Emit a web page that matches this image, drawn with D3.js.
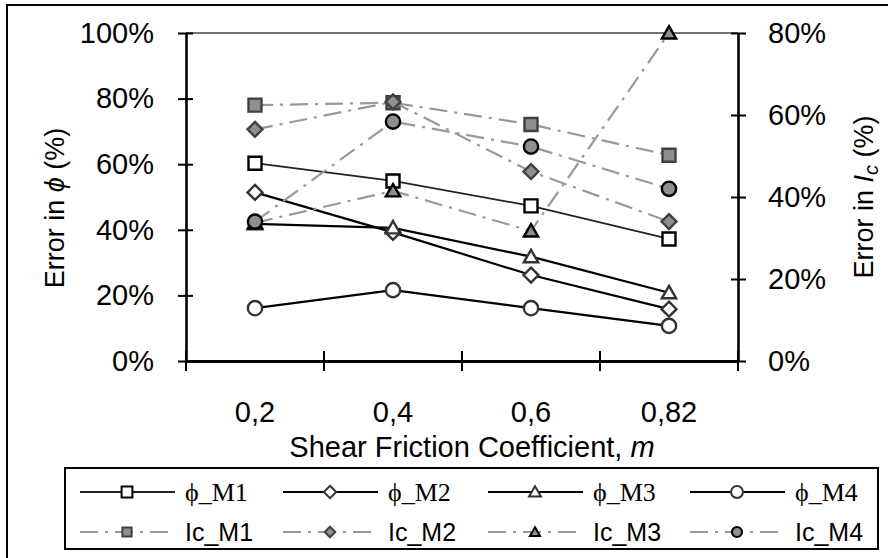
<!DOCTYPE html>
<html>
<head>
<meta charset="utf-8">
<script src="https://cdn.jsdelivr.net/npm/d3@7"></script>
<style>
body { margin: 0; background: #fff; }
svg { display: block; font-family: "Liberation Sans", Arial, sans-serif; }
</style>
</head>
<body>
<svg id="chart" width="888" height="558"></svg>
<script>
// values, in percent
const categories = ['0,2', '0,4', '0,6', '0,82'];
const phiM1 = [60.3, 54.9, 47.3, 37.2];
const phiM2 = [51.4, 39.2, 26.2, 15.8];
const phiM3 = [41.8, 40.6, 31.8, 20.8];
const phiM4 = [16.1, 21.6, 16.1, 10.7];
const icM1 = [62.4, 63.0, 57.7, 50.2];
const icM2 = [56.5, 63.2, 46.2, 34.0];
const icM3 = [33.7, 41.5, 31.7, 80.0];
const icM4 = [34.0, 58.4, 52.3, 42.0];
const leftTicks = [0, 20, 40, 60, 80, 100];
const rightTicks = [0, 20, 40, 60, 80];

const phiStyle = { line: '#000', width: 2.2, dash: null, fill: '#fff' };
const icStyle = { line: '#999', width: 2.2, dash: '18,7,3,7', fill: '#8f8f8f' };

const series = [
	{ name: 'ϕ_M1', values: phiM1, axis: 'left', shape: 'square', stroke: '#000', ...phiStyle, line: '#222', width: 1.8 },
	{ name: 'ϕ_M2', values: phiM2, axis: 'left', shape: 'diamond', stroke: '#333', ...phiStyle },
	{ name: 'ϕ_M3', values: phiM3, axis: 'left', shape: 'triangle', stroke: '#333', ...phiStyle },
	{ name: 'ϕ_M4', values: phiM4, axis: 'left', shape: 'circle', stroke: '#333', ...phiStyle },
	{ name: 'Ic_M1', values: icM1, axis: 'right', shape: 'square', stroke: '#404040', ...icStyle },
	{ name: 'Ic_M2', values: icM2, axis: 'right', shape: 'diamond', stroke: '#404040', ...icStyle },
	{ name: 'Ic_M3', values: icM3, axis: 'right', shape: 'triangle', stroke: '#000', ...icStyle },
	{ name: 'Ic_M4', values: icM4, axis: 'right', shape: 'circle', stroke: '#000', ...icStyle },
];

const svg = d3.select('#chart');
const plotLeft = 186, plotRight = 738, plotTop = 33, plotBottom = 361;

const x = d3.scaleBand().domain(categories).range([plotLeft, plotRight]);
const yL = d3.scaleLinear().domain([0, 100]).range([plotBottom, plotTop]);
const yR = d3.scaleLinear().domain([0, 80]).range([plotBottom, plotTop]);
const cx = (c) => x(c) + x.bandwidth() / 2;

function shapePath(shape, s) {
	if (shape === 'square') return `M${-s},${-s}h${2 * s}v${2 * s}h${-2 * s}Z`;
	if (shape === 'diamond') return `M0,${-s * 1.15}L${s * 1.15},0L0,${s * 1.15}L${-s * 1.15},0Z`;
	if (shape === 'triangle') return `M0,${-s * 1.05}L${s * 1.1},${s * 0.85}L${-s * 1.1},${s * 0.85}Z`;
	const p = d3.path();
	p.arc(0, 0, s * 1.1, 0, Math.PI * 2);
	p.closePath();
	return p.toString();
}

// outer frame
svg.append('rect')
	.attr('x', 7).attr('y', 5).attr('width', 900).attr('height', 600)
	.attr('fill', 'none').attr('stroke', '#000').attr('stroke-width', 2);

// top line of plot area
svg.append('line')
	.attr('x1', plotLeft).attr('x2', plotRight).attr('y1', plotTop).attr('y2', plotTop)
	.attr('stroke', '#444').attr('stroke-width', 1.5);

// left axis
const gL = svg.append('g')
	.attr('transform', `translate(${plotLeft},0)`)
	.call(d3.axisLeft(yL).tickValues(leftTicks).tickFormat((d) => d + '%')
		.tickSize(8).tickSizeOuter(0).tickPadding(24));
gL.selectAll('.tick line').attr('x1', 7).attr('stroke-width', 2);
gL.select('.domain').attr('stroke-width', 2.6);
gL.selectAll('text').attr('font-size', 29).attr('fill', '#000')
	.attr('font-family', '"Liberation Sans", Arial, sans-serif');

// right axis
const gR = svg.append('g')
	.attr('transform', `translate(${plotRight},0)`)
	.call(d3.axisRight(yR).tickValues(rightTicks).tickFormat((d) => d + '%')
		.tickSize(8).tickSizeOuter(0).tickPadding(22));
gR.selectAll('.tick line').attr('x1', -7).attr('stroke-width', 2);
gR.select('.domain').attr('stroke-width', 2.6);
gR.selectAll('text').attr('font-size', 29).attr('fill', '#000')
	.attr('font-family', '"Liberation Sans", Arial, sans-serif');

// bottom axis: labels at band centres, ticks at band edges
const gX = svg.append('g')
	.attr('transform', `translate(0,${plotBottom})`)
	.call(d3.axisBottom(x).tickSize(0).tickSizeOuter(0).tickPadding(40));
gX.select('.domain').attr('stroke-width', 2.8);
gX.selectAll('text').attr('font-size', 29).attr('fill', '#000')
	.attr('font-family', '"Liberation Sans", Arial, sans-serif');
gX.selectAll('.edge')
	.data(categories.map((c) => x(c)).concat([x.range()[1]]))
	.join('line')
	.attr('class', 'edge')
	.attr('x1', (d) => d).attr('x2', (d) => d)
	.attr('y1', -10).attr('y2', 10)
	.attr('stroke', '#000').attr('stroke-width', 2);

// axis titles
svg.append('text')
	.attr('x', 472).attr('y', 457)
	.attr('text-anchor', 'middle').attr('font-size', 29)
	.call((t) => {
		t.append('tspan').text('Shear Friction Coefficient, ');
		t.append('tspan').attr('font-style', 'italic').text('m');
	});

svg.append('text')
	.attr('transform', 'translate(64,208) rotate(-90)')
	.attr('text-anchor', 'middle').attr('font-size', 27)
	.call((t) => {
		t.append('tspan').text('Error in ');
		t.append('tspan').attr('font-style', 'italic').text('ϕ');
		t.append('tspan').text(' (%)');
	});

svg.append('text')
	.attr('transform', 'translate(873,197) rotate(-90)')
	.attr('text-anchor', 'middle').attr('font-size', 27)
	.call((t) => {
		t.append('tspan').text('Error in ');
		t.append('tspan').attr('font-style', 'italic').text('I');
		t.append('tspan').attr('font-style', 'italic').attr('font-size', 20).attr('dy', 5).text('c');
		t.append('tspan').attr('dy', -5).text(' (%)');
	});

// series
series.forEach((s) => {
	const y = s.axis === 'left' ? yL : yR;
	const line = d3.line().x((d, i) => cx(categories[i])).y((d) => y(d));
	svg.append('path')
		.datum(s.values)
		.attr('d', line)
		.attr('fill', 'none')
		.attr('stroke', s.line)
		.attr('stroke-width', s.width)
		.attr('stroke-dasharray', s.dash);
	svg.append('g')
		.selectAll('path')
		.data(s.values)
		.join('path')
		.attr('transform', (d, i) => `translate(${cx(categories[i])},${y(d)})`)
		.attr('d', shapePath(s.shape, 6.5))
		.attr('fill', s.fill)
		.attr('stroke', s.stroke)
		.attr('stroke-width', 2.4);
});

// legend
svg.append('rect')
	.attr('x', 65).attr('y', 468).attr('width', 813).attr('height', 81)
	.attr('fill', '#fff').attr('stroke', '#000').attr('stroke-width', 2);

const legendCols = [80, 283, 488, 690];
const legendRows = [492, 532];
series.forEach((s, i) => {
	const lx = legendCols[i % 4];
	const ly = legendRows[Math.floor(i / 4)];
	const g = svg.append('g').attr('transform', `translate(${lx},${ly})`);
	g.append('line')
		.attr('x1', 0).attr('x2', 95)
		.attr('stroke', s.line).attr('stroke-width', s.width)
		.attr('stroke-dasharray', s.dash);
	g.append('path')
		.attr('transform', 'translate(47,0)')
		.attr('d', shapePath(s.shape, s.axis === 'left' ? 5.4 : 4.6))
		.attr('fill', s.fill).attr('stroke', s.stroke).attr('stroke-width', 2);
	const phi = s.axis === 'left';
	g.append('text')
		.attr('x', 105).attr('y', 9)
		.attr('font-size', phi ? 26 : 25)
		.attr('font-family', phi ? '"Liberation Serif", "Times New Roman", serif' : '"Liberation Sans", Arial, sans-serif')
		.text(s.name);
});
</script>
</body>
</html>
